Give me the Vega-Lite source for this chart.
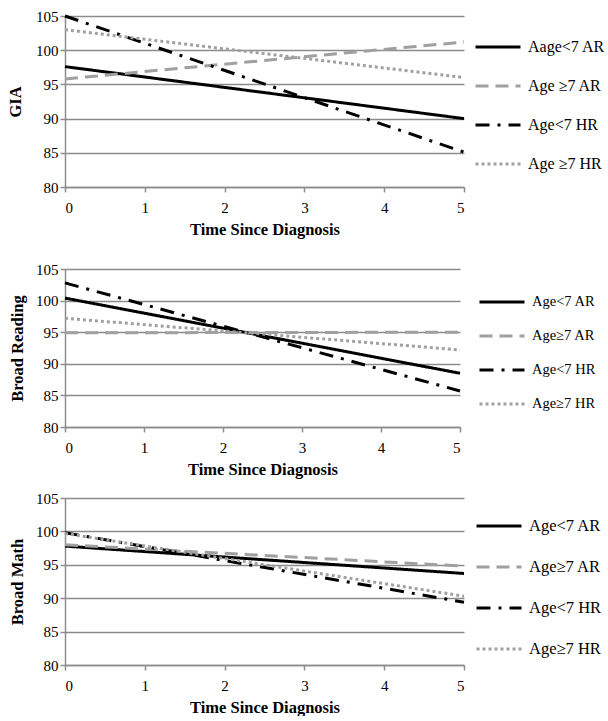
{
  "$schema": "https://vega.github.io/schema/vega-lite/v6.json",
  "background": "white",
  "padding": {"top": 9, "left": 7, "right": 5, "bottom": 0},
  "spacing": 24,
  "datasets": {
    "lines": [
      {"panel": "GIA", "series": "Aage<7 AR", "t": 0, "score": 97.6},
      {"panel": "GIA", "series": "Aage<7 AR", "t": 5, "score": 90.0},
      {"panel": "GIA", "series": "Age ≥7 AR", "t": 0, "score": 95.8},
      {"panel": "GIA", "series": "Age ≥7 AR", "t": 5, "score": 101.2},
      {"panel": "GIA", "series": "Age<7 HR", "t": 0, "score": 105.0},
      {"panel": "GIA", "series": "Age<7 HR", "t": 5, "score": 85.1},
      {"panel": "GIA", "series": "Age ≥7 HR", "t": 0, "score": 103.0},
      {"panel": "GIA", "series": "Age ≥7 HR", "t": 5, "score": 96.0},
      {"panel": "Broad Reading", "series": "Age<7 AR", "t": 0, "score": 100.4},
      {"panel": "Broad Reading", "series": "Age<7 AR", "t": 5, "score": 88.5},
      {"panel": "Broad Reading", "series": "Age≥7 AR", "t": 0, "score": 94.9},
      {"panel": "Broad Reading", "series": "Age≥7 AR", "t": 5, "score": 95.0},
      {"panel": "Broad Reading", "series": "Age<7 HR", "t": 0, "score": 102.8},
      {"panel": "Broad Reading", "series": "Age<7 HR", "t": 5, "score": 85.7},
      {"panel": "Broad Reading", "series": "Age≥7 HR", "t": 0, "score": 97.2},
      {"panel": "Broad Reading", "series": "Age≥7 HR", "t": 5, "score": 92.2},
      {"panel": "Broad Math", "series": "Age<7 AR", "t": 0, "score": 97.8},
      {"panel": "Broad Math", "series": "Age<7 AR", "t": 5, "score": 93.7},
      {"panel": "Broad Math", "series": "Age≥7 AR", "t": 0, "score": 98.0},
      {"panel": "Broad Math", "series": "Age≥7 AR", "t": 5, "score": 94.8},
      {"panel": "Broad Math", "series": "Age<7 HR", "t": 0, "score": 99.8},
      {"panel": "Broad Math", "series": "Age<7 HR", "t": 5, "score": 89.4},
      {"panel": "Broad Math", "series": "Age≥7 HR", "t": 0, "score": 99.7},
      {"panel": "Broad Math", "series": "Age≥7 HR", "t": 5, "score": 90.3}
    ]
  },
  "config": {
    "view": {"stroke": null},
    "font": "Liberation Serif",
    "axis": {
      "labelFont": "Liberation Serif",
      "labelFontSize": 15,
      "labelColor": "black",
      "titleFont": "Liberation Serif",
      "titleFontSize": 16.5,
      "titleFontWeight": "bold",
      "titleColor": "black",
      "domainColor": "#8c8c8c",
      "tickColor": "#8c8c8c",
      "gridColor": "#8c8c8c",
      "gridOpacity": 1,
      "domainWidth": 1.5,
      "gridWidth": 1.5,
      "tickWidth": 1.5,
      "tickSize": 5
    },
    "legend": {
      "labelFont": "Liberation Serif",
      "labelColor": "black",
      "symbolType": "stroke",
      "symbolSize": 2025,
      "symbolStrokeWidth": 3,
      "labelOffset": 6,
      "orient": "none"
    },
    "line": {"strokeWidth": 3, "strokeCap": "butt"}
  },
  "resolve": {"scale": {"color": "independent", "strokeDash": "independent"}, "legend": {"color": "independent", "strokeDash": "independent"}},
  "vconcat": [
    {
      "width": 399,
      "height": 171,
      "data": {"name": "lines"},
      "transform": [{"filter": "datum.panel === 'GIA'"}],
      "mark": {"type": "line"},
      "encoding": {
        "x": {"field": "t", "type": "quantitative", "scale": {"domain": [0, 5], "nice": false}, "axis": {"title": "Time Since Diagnosis", "values": [0, 1, 2, 3, 4, 5], "grid": false, "labelPadding": 8, "titlePadding": 6}},
        "y": {"field": "score", "type": "quantitative", "scale": {"domain": [80, 105], "nice": false, "zero": false}, "axis": {"title": "GIA", "values": [80, 85, 90, 95, 100, 105], "grid": true, "titlePadding": 12}},
        "color": {"field": "series", "type": "nominal", "scale": {"domain": ["Aage<7 AR", "Age ≥7 AR", "Age<7 HR", "Age ≥7 HR"], "range": ["black", "#a0a0a0", "black", "#a0a0a0"]}, "legend": {"title": null, "legendX": 409, "legendY": 7, "rowPadding": 7, "labelFontSize": 16}},
        "strokeDash": {"field": "series", "type": "nominal", "scale": {"domain": ["Aage<7 AR", "Age ≥7 AR", "Age<7 HR", "Age ≥7 HR"], "range": [[1, 0], [13, 7], [14, 8, 3, 8], [3, 3]]}, "legend": {"title": null, "legendX": 409, "legendY": 7, "rowPadding": 7, "labelFontSize": 16}}
      }
    },
    {
      "spacing": 13,
      "resolve": {"scale": {"color": "independent", "strokeDash": "independent"}, "legend": {"color": "independent", "strokeDash": "independent"}},
      "vconcat": [
        {
          "width": 395,
          "height": 158,
          "data": {"name": "lines"},
          "transform": [{"filter": "datum.panel === 'Broad Reading'"}],
          "mark": {"type": "line"},
          "encoding": {
            "x": {"field": "t", "type": "quantitative", "scale": {"domain": [0, 5], "nice": false}, "axis": {"title": "Time Since Diagnosis", "values": [0, 1, 2, 3, 4, 5], "grid": false, "labelPadding": 8, "titlePadding": 6}},
            "y": {"field": "score", "type": "quantitative", "scale": {"domain": [80, 105], "nice": false, "zero": false}, "axis": {"title": "Broad Reading", "values": [80, 85, 90, 95, 100, 105], "grid": true, "titlePadding": 10}},
            "color": {"field": "series", "type": "nominal", "scale": {"domain": ["Age<7 AR", "Age≥7 AR", "Age<7 HR", "Age≥7 HR"], "range": ["black", "#a0a0a0", "black", "#a0a0a0"]}, "legend": {"title": null, "legendX": 413, "legendY": 9, "rowPadding": 3, "labelFontSize": 14.5}},
            "strokeDash": {"field": "series", "type": "nominal", "scale": {"domain": ["Age<7 AR", "Age≥7 AR", "Age<7 HR", "Age≥7 HR"], "range": [[1, 0], [13, 7], [14, 8, 3, 8], [3, 3]]}, "legend": {"title": null, "legendX": 413, "legendY": 9, "rowPadding": 3, "labelFontSize": 14.5}}
          }
        },
        {
          "width": 399,
          "height": 167,
          "data": {"name": "lines"},
          "transform": [{"filter": "datum.panel === 'Broad Math'"}],
          "mark": {"type": "line"},
          "encoding": {
            "x": {"field": "t", "type": "quantitative", "scale": {"domain": [0, 5], "nice": false}, "axis": {"title": "Time Since Diagnosis", "values": [0, 1, 2, 3, 4, 5], "grid": false, "labelPadding": 8, "titlePadding": 6}},
            "y": {"field": "score", "type": "quantitative", "scale": {"domain": [80, 105], "nice": false, "zero": false}, "axis": {"title": "Broad Math", "values": [80, 85, 90, 95, 100, 105], "grid": true, "titlePadding": 10}},
            "color": {"field": "series", "type": "nominal", "scale": {"domain": ["Age<7 AR", "Age≥7 AR", "Age<7 HR", "Age≥7 HR"], "range": ["black", "#a0a0a0", "black", "#a0a0a0"]}, "legend": {"title": null, "legendX": 410, "legendY": 4, "rowPadding": 8, "labelFontSize": 16.5}},
            "strokeDash": {"field": "series", "type": "nominal", "scale": {"domain": ["Age<7 AR", "Age≥7 AR", "Age<7 HR", "Age≥7 HR"], "range": [[1, 0], [13, 7], [14, 8, 3, 8], [3, 3]]}, "legend": {"title": null, "legendX": 410, "legendY": 4, "rowPadding": 8, "labelFontSize": 16.5}}
          }
        }
      ]
    }
  ]
}
